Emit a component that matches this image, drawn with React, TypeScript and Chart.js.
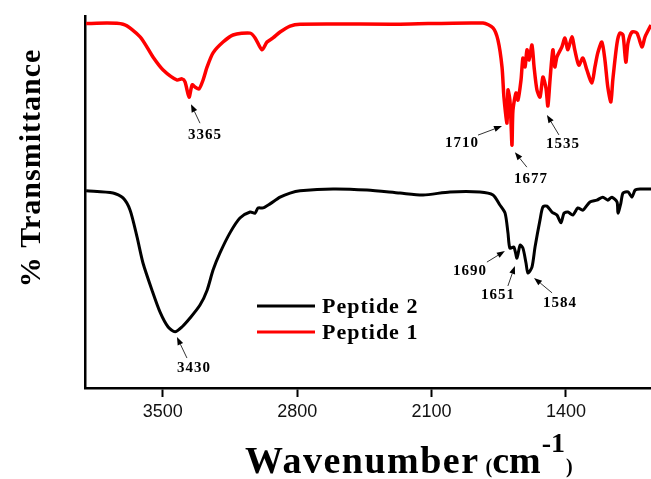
import React, { useEffect, useRef } from "react";
import { Chart, registerables } from "chart.js";

Chart.register(...registerables);

// ---------- DATA ----------
const xTickValues = [3500, 2800, 2100, 1400];

const peptide1Wavenumber = [3899, 3707, 3618, 3551, 3498, 3426, 3400, 3384, 3363, 3347, 3332, 3311, 3290, 3269, 3238, 3186, 3134, 3045, 3019, 2983, 2957, 2926, 2889, 2837, 2785, 2264, 1832, 1780, 1754, 1733, 1723, 1707, 1702, 1692, 1686, 1681, 1676, 1660, 1650, 1634, 1624, 1613, 1603, 1592, 1577, 1566, 1551, 1535, 1520, 1504, 1494, 1483, 1468, 1458, 1447, 1421, 1405, 1390, 1369, 1354, 1333, 1312, 1291, 1265, 1249, 1234, 1213, 1197, 1182, 1166, 1156, 1134, 1119, 1103, 1088, 1077, 1056, 1030, 1004, 988, 957];
const peptide1Transmittance = [98.0, 97.8, 94.4, 89.0, 85.5, 82.8, 83.1, 82.3, 78.2, 81.5, 80.9, 80.4, 82.8, 86.3, 90.1, 93.0, 94.9, 95.4, 94.1, 90.9, 93.0, 94.1, 95.7, 97.3, 97.8, 97.8, 98.1, 96.8, 93.5, 86.3, 78.2, 71.2, 80.1, 77.4, 71.2, 65.3, 74.7, 79.3, 77.4, 82.8, 88.7, 86.3, 90.9, 88.2, 92.2, 86.3, 80.1, 78.2, 83.6, 80.6, 75.8, 82.8, 90.9, 86.3, 89.0, 91.7, 94.1, 90.9, 94.4, 90.9, 86.8, 88.7, 85.5, 82.0, 86.3, 90.1, 93.0, 88.2, 80.9, 76.9, 82.8, 92.7, 95.4, 94.9, 87.6, 92.7, 95.7, 95.4, 91.7, 94.4, 97.6];

const peptide2Wavenumber = [3899, 3759, 3707, 3670, 3634, 3603, 3556, 3514, 3472, 3436, 3400, 3358, 3306, 3269, 3238, 3202, 3150, 3098, 3045, 3019, 3004, 2978, 2941, 2889, 2837, 2785, 2613, 2436, 2264, 2144, 2004, 1848, 1780, 1744, 1717, 1702, 1692, 1671, 1655, 1639, 1624, 1608, 1598, 1577, 1561, 1535, 1520, 1499, 1473, 1447, 1426, 1410, 1390, 1364, 1338, 1312, 1275, 1239, 1208, 1182, 1161, 1134, 1129, 1114, 1103, 1077, 1056, 1040, 1014, 957];
const peptide2Transmittance = [53.0, 52.4, 51.1, 47.8, 40.6, 33.6, 26.3, 20.4, 16.4, 15.1, 16.4, 18.8, 22.3, 26.3, 31.7, 36.3, 41.7, 45.7, 47.3, 47.0, 48.4, 48.4, 49.5, 51.3, 52.4, 53.0, 53.5, 53.2, 52.4, 51.9, 52.7, 52.7, 51.9, 49.2, 47.0, 41.7, 37.6, 37.9, 34.9, 38.4, 37.6, 33.6, 30.9, 32.5, 37.9, 45.2, 48.7, 48.9, 47.3, 46.5, 44.4, 47.0, 47.3, 46.5, 48.4, 47.8, 50.0, 50.5, 51.3, 50.5, 51.3, 50.0, 47.0, 49.7, 52.4, 52.7, 51.3, 53.2, 53.5, 53.5];

// peak annotations: label text, arrow tip in data units
const peakLabels = ["3365", "1710", "1677", "1535", "3430", "1690", "1651", "1584"];
const peakTipWavenumber = [3353, 1733, 1666, 1499, 3426, 1718, 1666, 1566];
const peakTipTransmittance = [76.3, 70.4, 63.4, 73.4, 13.7, 36.8, 32.8, 29.6];

// ---------- STYLE ----------
const SERIF = '"Liberation Serif", "Times New Roman", serif';
const SANS = '"Liberation Sans", Arial, sans-serif';
// pixel offsets of arrow tail and label centre relative to arrow tip
const peakOffsets: Record<string, { tail: [number, number]; text: [number, number] }> = {
  "3365": { tail: [9, 19], text: [14, 31] },
  "3430": { tail: [10, 21], text: [17, 31] },
  "1710": { tail: [-24, 9], text: [-40, 17] },
  "1677": { tail: [12, 15], text: [16, 27] },
  "1535": { tail: [12, 20], text: [16, 29] },
  "1690": { tail: [-18, 11], text: [-35, 20] },
  "1651": { tail: [-7, 20], text: [-17, 29] },
  "1584": { tail: [18, 15], text: [26, 25] },
};

function setSpacing(ctx: any, v: string) {
  if ("letterSpacing" in ctx) ctx.letterSpacing = v;
}

const decorPlugin = {
  id: "decor",
  afterDraw(chart: any) {
    const ctx: CanvasRenderingContext2D = chart.ctx;
    const xs = chart.scales.x;
    const ys = chart.scales.y;
    ctx.save();

    // Y title
    ctx.save();
    ctx.translate(40, 168);
    ctx.rotate(-Math.PI / 2);
    ctx.fillStyle = "#000";
    ctx.font = `bold 30px ${SERIF}`;
    ctx.textAlign = "center";
    ctx.textBaseline = "alphabetic";
    setSpacing(ctx, "1px");
    ctx.fillText("% Transmittance", 0, 0);
    ctx.restore();

    // X title
    ctx.fillStyle = "#000";
    ctx.textAlign = "left";
    ctx.textBaseline = "alphabetic";
    let x = 245;
    const base = 473;
    ctx.font = `bold 38px ${SERIF}`;
    setSpacing(ctx, "1.5px");
    ctx.fillText("Wavenumber", x, base);
    x += ctx.measureText("Wavenumber").width + 6;
    setSpacing(ctx, "0px");
    ctx.font = `bold 20px ${SERIF}`;
    ctx.fillText("(", x, base);
    x += ctx.measureText("(").width;
    ctx.font = `bold 38px ${SERIF}`;
    ctx.fillText("cm", x, base);
    x += ctx.measureText("cm").width + 1;
    ctx.font = `bold 28px ${SERIF}`;
    ctx.fillText("-1", x, base - 21);
    x += ctx.measureText("-1").width + 1;
    ctx.font = `bold 20px ${SERIF}`;
    ctx.fillText(")", x, base);

    // Legend
    const ds = chart.data.datasets;
    ds.forEach((d: any, i: number) => {
      const ly = 306 + i * 26;
      ctx.strokeStyle = d.borderColor;
      ctx.lineWidth = 3;
      ctx.beginPath();
      ctx.moveTo(257, ly);
      ctx.lineTo(315, ly);
      ctx.stroke();
      ctx.fillStyle = "#000";
      ctx.font = `bold 22px ${SERIF}`;
      ctx.textBaseline = "middle";
      setSpacing(ctx, "1px");
      ctx.fillText(d.label, 322, ly + 1);
    });
    setSpacing(ctx, "0px");

    // Peak annotations
    peakLabels.forEach((lab, i) => {
      const tx = xs.getPixelForValue(peakTipWavenumber[i]);
      const ty = ys.getPixelForValue(peakTipTransmittance[i]);
      const off = peakOffsets[lab];
      const ax = tx + off.tail[0];
      const ay = ty + off.tail[1];
      const ang = Math.atan2(ty - ay, tx - ax);
      const hl = 8, hw = 3;
      const bx = tx - hl * Math.cos(ang);
      const by = ty - hl * Math.sin(ang);
      ctx.strokeStyle = "#333";
      ctx.lineWidth = 1;
      ctx.beginPath();
      ctx.moveTo(ax, ay);
      ctx.lineTo(bx, by);
      ctx.stroke();
      ctx.fillStyle = "#000";
      ctx.beginPath();
      ctx.moveTo(tx, ty);
      ctx.lineTo(bx + hw * Math.sin(ang), by - hw * Math.cos(ang));
      ctx.lineTo(bx - hw * Math.sin(ang), by + hw * Math.cos(ang));
      ctx.closePath();
      ctx.fill();
      ctx.font = `bold 15px ${SERIF}`;
      ctx.textAlign = "center";
      ctx.textBaseline = "middle";
      setSpacing(ctx, "1px");
      ctx.fillText(lab, tx + off.text[0], ty + off.text[1]);
      setSpacing(ctx, "0px");
    });

    ctx.restore();
  },
};

export default function App() {
  const ref = useRef<HTMLCanvasElement | null>(null);
  useEffect(() => {
    if (!ref.current) return;
    const chart = new Chart(ref.current, {
      type: "line",
      data: {
        datasets: [
          {
            label: "Peptide 2",
            data: peptide2Wavenumber.map((w, i) => ({ x: w, y: peptide2Transmittance[i] })),
            borderColor: "#000000",
            borderWidth: 3,
            pointRadius: 0,
            tension: 0.25,
            fill: false,
          },
          {
            label: "Peptide 1",
            data: peptide1Wavenumber.map((w, i) => ({ x: w, y: peptide1Transmittance[i] })),
            borderColor: "#ff0000",
            borderWidth: 3.5,
            pointRadius: 0,
            tension: 0.25,
            fill: false,
          },
        ],
      },
      options: {
        responsive: false,
        animation: false,
        events: [],
        layout: { padding: { top: 16, right: 0, left: 0, bottom: 0 } },
        plugins: { legend: { display: false }, tooltip: { enabled: false } },
        scales: {
          x: {
            type: "linear",
            reverse: true,
            min: 957,
            max: 3905,
            afterBuildTicks: (s: any) => {
              s.ticks = xTickValues.map((v) => ({ value: v }));
            },
            afterFit: (s: any) => {
              s.height = 91;
            },
            ticks: {
              autoSkip: false,
              maxRotation: 0,
              padding: 4,
              color: "#111",
              font: { family: SANS, size: 18 },
              callback: (v: any) => String(v),
            },
            grid: {
              display: true,
              drawOnChartArea: false,
              drawTicks: true,
              tickLength: 9,
              tickWidth: 2,
              tickColor: "#000",
            },
            border: { display: true, color: "#000", width: 2.5 },
          },
          y: {
            min: 0,
            max: 100,
            afterFit: (s: any) => {
              s.width = 85;
            },
            ticks: { display: false },
            grid: { display: false },
            border: { display: true, color: "#000", width: 2.5 },
          },
        },
      } as any,
      plugins: [decorPlugin],
    });
    return () => chart.destroy();
  }, []);
  return (
    <div style={{ position: "fixed", left: 0, top: 0, width: 651, height: 479, background: "#fff" }}>
      <canvas ref={ref} width={651} height={479} style={{ display: "block" }} />
    </div>
  );
}
